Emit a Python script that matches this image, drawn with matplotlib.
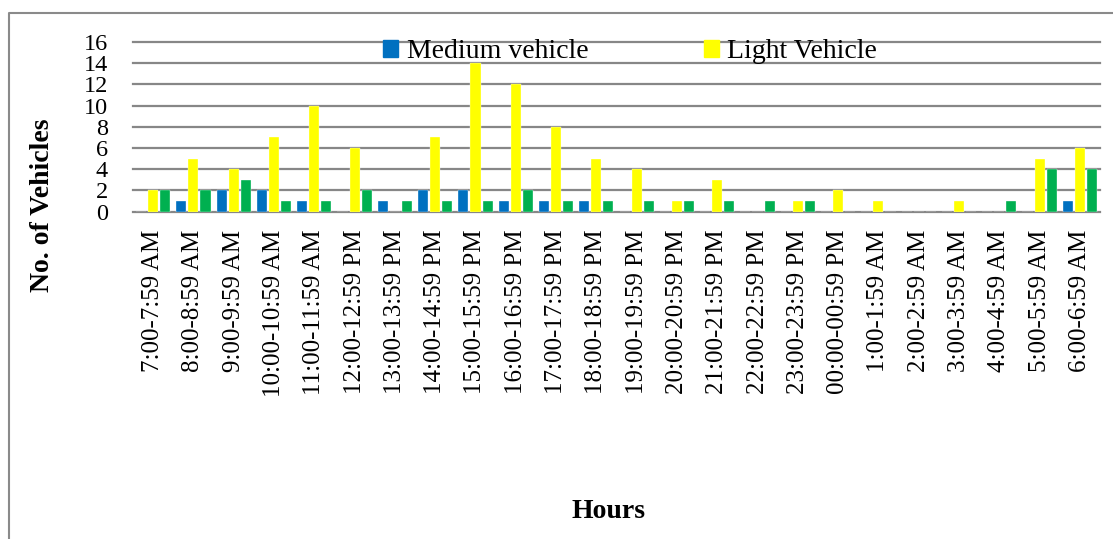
import matplotlib.pyplot as plt
from matplotlib.patches import Patch
from matplotlib.lines import Line2D
import numpy as np

hours = ["7:00-7:59 AM", "8:00-8:59 AM", "9:00-9:59 AM", "10:00-10:59 AM",
         "11:00-11:59 AM", "12:00-12:59 PM", "13:00-13:59 PM", "14:00-14:59 PM",
         "15:00-15:59 PM", "16:00-16:59 PM", "17:00-17:59 PM", "18:00-18:59 PM",
         "19:00-19:59 PM", "20:00-20:59 PM", "21:00-21:59 PM", "22:00-22:59 PM",
         "23:00-23:59 PM", "00:00-00:59 PM", "1:00-1:59 AM", "2:00-2:59 AM",
         "3:00-3:59 AM", "4:00-4:59 AM", "5:00-5:59 AM", "6:00-6:59 AM"]
medium = [0, 1, 2, 2, 1, 0, 1, 2, 2, 1, 1, 1, 0, 0, 0, 0, 0, 0, 0, 0, 0, 0, 0, 1]
light = [2, 5, 4, 7, 10, 6, 0, 7, 14, 12, 8, 5, 4, 1, 3, 0, 1, 2, 1, 0, 1, 0, 5, 6]
heavy = [2, 2, 3, 1, 1, 2, 1, 1, 1, 2, 1, 1, 1, 1, 1, 1, 1, 0, 0, 0, 0, 1, 4, 4]
yticks = [0, 2, 4, 6, 8, 10, 12, 14, 16]

plt.rcParams['font.family'] = ['Liberation Serif', 'DejaVu Serif']

W, H = 1113, 539
fig = plt.figure(figsize=(W / 100, H / 100), dpi=100)
ax = fig.add_axes([133 / W, 1 - 211.5 / H, (1100 - 133) / W, (211.5 - 42) / H])

x = np.arange(len(hours))
bw = 0.25
step = 0.3
ax.bar(x - step, medium, bw, color='#0070C0', edgecolor='white', linewidth=0.25)
ax.bar(x, light, bw, color='#FFFF00', edgecolor='white', linewidth=0.25)
ax.bar(x + step, heavy, bw, color='#00B050', edgecolor='white', linewidth=0.25)

ax.set_xlim(-0.5, len(hours) - 0.5)
ax.set_ylim(0, 16)
ax.set_yticks(yticks)
ax.set_xticks(x)
ax.set_xticklabels(hours, rotation=90)
ax.tick_params(axis='y', length=0, pad=18, labelsize=17.5)
ax.tick_params(axis='x', length=0, pad=13, labelsize=18)
ax.yaxis.grid(True, color='#878787', linewidth=1.6)
ax.set_axisbelow(True)
for gl in ax.get_ygridlines():
    gl.set_clip_on(False)
for s in ax.spines.values():
    s.set_visible(False)

fig.text(43 / W, 1 - 205 / H, "No. of Vehicles", rotation=90, fontsize=20,
         fontweight='bold', ha='center', va='center')
fig.text(609 / W, 1 - 512 / H, "Hours", fontsize=20, fontweight='bold',
         ha='center', va='center')

handles = [Patch(color='#0070C0'), Patch(color='#FFFF00')]
fig.legend(handles, ["Medium vehicle", "Light Vehicle"], ncol=2, frameon=False,
           loc='center left', bbox_to_anchor=(383 / W, 1 - 52 / H),
           fontsize=20, handlelength=0.55, handleheight=0.55,
           handletextpad=0.3, columnspacing=4.15, borderpad=0, borderaxespad=0)

# outer frame, only left and top edges fall inside the image
fig.add_artist(Line2D([8.5 / W, 8.5 / W, 1], [0, 1 - 13 / H, 1 - 13 / H],
                      color='#8a8a8a', linewidth=1.5, transform=fig.transFigure))

fig.savefig("out.png", dpi=100)
